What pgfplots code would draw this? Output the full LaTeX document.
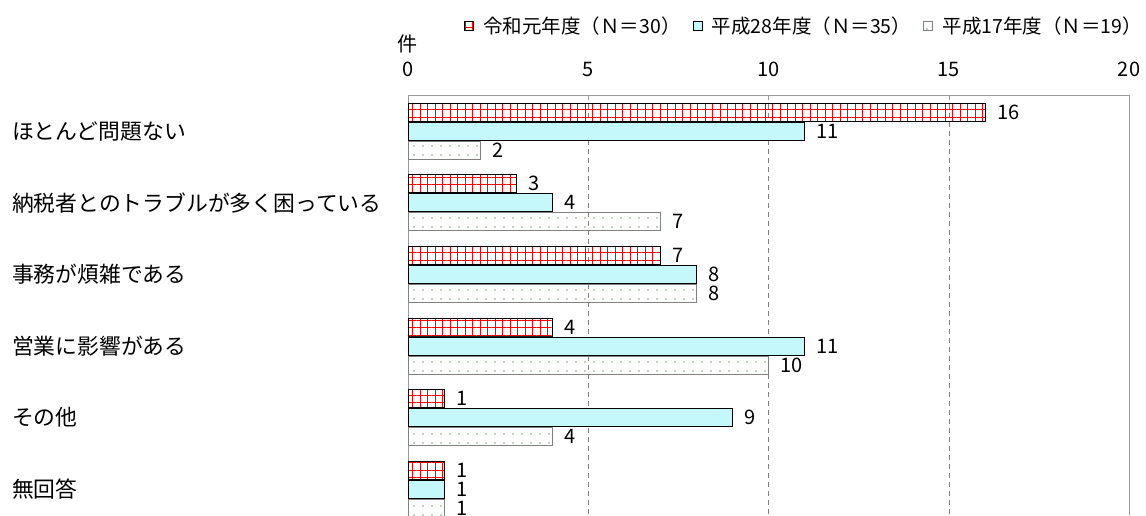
\documentclass[border=0pt]{standalone}
\usepackage{fontspec}
\setmainfont{Noto Sans CJK JP}
\usepackage{pgfplots}
\pgfplotsset{compat=1.18}
\usetikzlibrary{patterns.meta}
\definecolor{cyanfill}{RGB}{196,248,250}
\definecolor{dotcol}{RGB}{120,170,120}
\begin{document}
\begin{tikzpicture}
\useasboundingbox (-408pt,0) rectangle (738pt,515pt);
\begin{axis}[
  scale only axis, width=721pt, height=420pt,
  clip=false,
  xbar, bar width=18pt,
  xmin=0, xmax=20, ymin=-0.503, ymax=5.36, y dir=reverse,
  axis x line*=top, axis y line*=left,
  axis line style={draw=gray!80},
  xtick={0,5,10,15,20},
  tick align=inside, major tick length=5pt,
  x tick style={draw=gray!80},
  ytick={0,1,2,3,4,5}, y tick style={draw=none},
  yticklabels={ほとんど問題ない,納税者とのトラブルが多く困っている,事務が煩雑である,営業に影響がある,その他,無回答},
  y tick label style={anchor=west, xshift=-396pt, inner sep=0pt, font=\fontsize{21.8}{24}\selectfont},
  x tick label style={font=\fontsize{20}{22}\selectfont, yshift=15pt},
  /pgf/number format/assume math mode=true,
  xmajorgrids, grid style={draw=gray, dash pattern=on 5pt off 4pt},
  nodes near coords,
  nodes near coords style={anchor=west, font=\fontsize{20}{22}\selectfont, xshift=10pt, inner sep=2pt},
  legend columns=3,
  legend style={at={(axis description cs:1.021,1)}, anchor=south east, yshift=58pt, draw=none, font=\fontsize{19.5}{22}\selectfont, column sep=8pt, inner sep=0pt,
    /tikz/every even column/.append style={column sep=10pt}},
  legend image code/.code={\draw[#1, bar shift=0pt] (0pt,-4.5pt) rectangle (9pt,4.5pt);},
]
\addplot[draw=black, pattern={Hatch[angle=0,distance=7.5pt,line width=1pt]}, pattern color=red, bar shift=19pt]
  coordinates {(16,0) (3,1) (7,2) (4,3) (1,4) (1,5)};
\addplot[draw=black, fill=cyanfill, bar shift=0pt]
  coordinates {(11,0) (4,1) (8,2) (11,3) (9,4) (1,5)};
\addplot[draw=gray, pattern={Dots[distance=9pt,radius=0.9pt]}, pattern color=dotcol, bar shift=-19pt]
  coordinates {(2,0) (7,1) (8,2) (10,3) (4,4) (1,5)};
\legend{令和元年度（Ｎ＝30）,平成28年度（Ｎ＝35）,平成17年度（Ｎ＝19）}
\draw[gray!80] (axis description cs:1,0) -- (axis description cs:1,1);
\end{axis}
\node[font=\fontsize{20}{22}\selectfont] at (0pt,471pt) {件};
\end{tikzpicture}
\end{document}
